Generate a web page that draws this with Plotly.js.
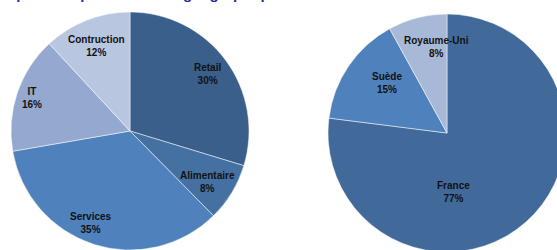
<!DOCTYPE html>
<html>
<head>
<meta charset="utf-8">
<script src="https://cdn.plot.ly/plotly-3.0.1.min.js"></script>
<style>
  html, body { margin: 0; padding: 0; width: 557px; height: 250px; overflow: hidden; background: #fff; }
  #chart { position: absolute; left: 0; top: -20px; width: 580px; height: 280px; }
</style>
</head>
<body>
<div id="chart"></div>
<script>
// Répartition par secteur
const sectorLabels = ['Retail', 'Alimentaire', 'Services', 'IT', 'Contruction'];
const sectorValues = [30, 8, 35, 16, 12];
const sectorColors = ['#3a5f8b', '#4471a1', '#4f81bd', '#95a8cf', '#b9c6e0'];

// Répartition géographique
const countryLabels = ['France', 'Suède', 'Royaume-Uni'];
const countryValues = [77, 15, 8];
const countryColors = ['#416a9b', '#4f81bd', '#a8b9d8'];

const titleText = 'Répartition par secteur et géographique';

// label placement style (fraction of radius along the slice bisector, optional angle override in degrees)
const sectorLabelRadius = [0.81, 0.78, 0.84, 0.87, 0.77];
const sectorLabelAngle = [null, 123, 203, null, null];
const countryLabelRadius = [0.5, 0.66, 0.73];
const countryLabelAngle = [174, 310, 353];

const W = 580, H = 280;
const sectorDomain = { x: [11 / W, 249 / W], y: [1 - 270 / H, 1 - 32 / H] };
const countryDomain = { x: [328 / W, 566 / W], y: [1 - 272 / H, 1 - 34 / H] };

function pieTrace(labels, values, colors, domain) {
  return {
    type: 'pie',
    labels: labels,
    values: values,
    sort: false,
    direction: 'clockwise',
    rotation: 0,
    textinfo: 'none',
    hoverinfo: 'label+percent',
    showlegend: false,
    marker: { colors: colors, line: { color: 'rgba(255,255,255,0.7)', width: 0.7 } },
    domain: domain
  };
}

function labelAnnotations(labels, values, domain, radiusFrac, angleOverride) {
  const total = values.reduce((a, b) => a + b, 0);
  const x0 = domain.x[0] * W, x1 = domain.x[1] * W;
  const yTop = (1 - domain.y[1]) * H, yBot = (1 - domain.y[0]) * H;
  const cx = (x0 + x1) / 2, cy = (yTop + yBot) / 2;
  const r = Math.min(x1 - x0, yBot - yTop) / 2;
  let cum = 0;
  return labels.map((lab, i) => {
    const frac = values[i] / total;
    let ang = (cum + frac / 2) * 360;
    cum += frac;
    if (angleOverride && angleOverride[i] != null) ang = angleOverride[i];
    const t = ang * Math.PI / 180;
    const px = cx + radiusFrac[i] * r * Math.sin(t);
    const py = cy - radiusFrac[i] * r * Math.cos(t);
    return {
      text: '<b>' + lab + '</b><br><b>' + Math.round(frac * 100) + '%</b>',
      xref: 'paper', yref: 'paper',
      x: px / W, y: 1 - py / H,
      xanchor: 'center', yanchor: 'middle',
      showarrow: false,
      font: { family: 'Liberation Sans, Arial, sans-serif', size: 10, color: '#111111' }
    };
  });
}

const data = [
  pieTrace(sectorLabels, sectorValues, sectorColors, sectorDomain),
  pieTrace(countryLabels, countryValues, countryColors, countryDomain)
];

const annotations = [{
  text: '<b>' + titleText + '</b>',
  xref: 'paper', yref: 'paper',
  x: -5 / W, y: 1 - 24 / H,
  xanchor: 'left', yanchor: 'bottom',
  showarrow: false,
  font: { family: 'Liberation Sans, Arial, sans-serif', size: 15, color: '#2a2a9c' }
}].concat(
  labelAnnotations(sectorLabels, sectorValues, sectorDomain, sectorLabelRadius, sectorLabelAngle),
  labelAnnotations(countryLabels, countryValues, countryDomain, countryLabelRadius, countryLabelAngle)
);

const layout = {
  width: W,
  height: H,
  margin: { l: 0, r: 0, t: 0, b: 0 },
  paper_bgcolor: '#ffffff',
  showlegend: false,
  annotations: annotations
};

Plotly.newPlot('chart', data, layout, { staticPlot: true, displayModeBar: false });
</script>
</body>
</html>
